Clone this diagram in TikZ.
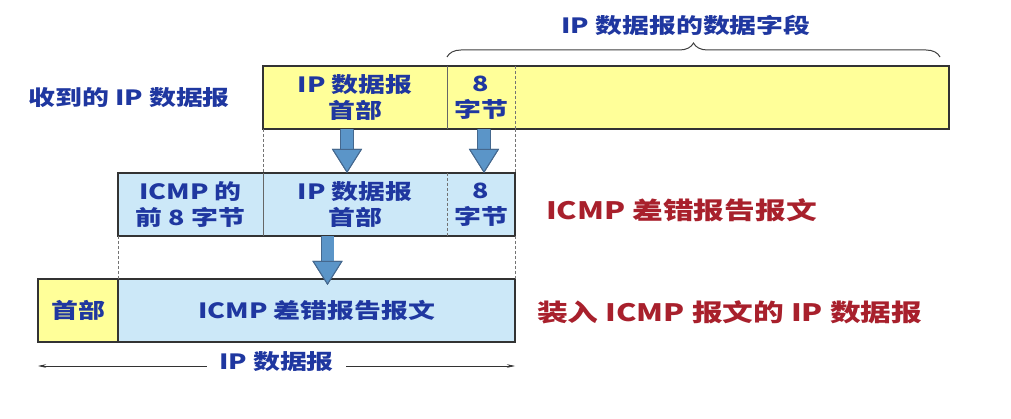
\documentclass[tikz,border=0pt]{standalone}
\usepackage{fontspec}
\setmainfont{Noto Sans CJK SC}[FakeStretch=1.28]
\usetikzlibrary{arrows.meta,positioning,decorations.pathreplacing}
\definecolor{hdryellow}{HTML}{FFFF99}
\definecolor{icmpblue}{HTML}{CCE8F8}
\definecolor{txtblue}{HTML}{1F37A0}
\definecolor{txtred}{HTML}{A8202C}
\definecolor{arrowfill}{HTML}{5B95C8}
\definecolor{arrowedge}{HTML}{45688E}
\tikzset{
  lbl/.style={text=txtblue,font=\bfseries\fontsize{21}{26}\selectfont,align=center,inner sep=0pt},
  redlbl/.style={text=txtred,font=\bfseries\fontsize{24}{28}\selectfont,inner sep=0pt},
  cell/.style={lbl,fill=#1,minimum height=63pt,outer sep=0pt},
  boxline/.style={draw=black!80,line width=1.3pt},
  divline/.style={draw=black!60,line width=0.7pt},
  dashline/.style={draw=black!55,line width=0.6pt,dash pattern=on 3pt off 2pt},
  fatarrow/.style={draw=arrowfill,line width=12pt,
    -{Triangle[length=24pt,width=30pt,line width=1pt,fill=arrowfill,color=arrowedge]},
    preaction={draw=arrowedge,line width=13.6pt,-{Triangle[length=24pt,width=30pt,line width=1pt]}}},
  dimline/.style={draw=black!80,line width=0.6pt,{Stealth[length=8pt,width=3.5pt]}-{Stealth[length=8pt,width=3.5pt]}}
}
\begin{document}
\begin{tikzpicture}[x=1pt,y=-1pt]
\fill[white] (0,0) rectangle (1011,419);
\useasboundingbox (0,0) rectangle (1011,419);

\node[cell=hdryellow,minimum width=184pt,anchor=north west] (hdrA) at (263,66) {IP 数据报\\首部};
\node[cell=hdryellow,minimum width=68pt,right=0pt of hdrA] (byteA) {8\\字节};
\node[cell=hdryellow,minimum width=434pt,right=0pt of byteA] (dataA) {};
\node[lbl,left=33pt of hdrA] (rcv) {收到的 IP 数据报};

\node[cell=icmpblue,minimum width=145pt,anchor=north west] (icmpB) at (118,173) {ICMP 的\\前 8 字节};
\node[cell=icmpblue,minimum width=184pt,right=0pt of icmpB] (hdrB) {IP 数据报\\首部};
\node[cell=icmpblue,minimum width=68pt,right=0pt of hdrB] (byteB) {8\\字节};
\node[redlbl,right=31pt of byteB,yshift=-6pt] (errmsg) {ICMP 差错报告报文};

\node[cell=hdryellow,minimum width=80pt,anchor=north west] (hdrC) at (38,279) {首部};
\node[cell=icmpblue,minimum width=397pt,right=0pt of hdrC] (msgC) {ICMP 差错报告报文};
\node[redlbl,right=22pt of msgC,yshift=-2pt] (ipmsg) {装入 ICMP 报文的 IP 数据报};

\draw[boxline] (hdrA.north west) rectangle (dataA.south east);
\draw[divline] (hdrA.north east) -- (hdrA.south east);
\draw[dashline] (byteA.north east) -- (byteA.south east);
\draw[boxline] (icmpB.north west) rectangle (byteB.south east);
\draw[divline] (icmpB.north east) -- (icmpB.south east);
\draw[dashline] (hdrB.north east) -- (hdrB.south east);
\draw[boxline] (hdrC.north west) rectangle (msgC.south east);
\draw[boxline] (hdrC.north east) -- (hdrC.south east);

\draw[dashline] (hdrA.south west) -- (hdrB.north west);
\draw[dashline] (byteA.south east) -- (byteB.north east);
\draw[dashline] (icmpB.south west) -- (hdrC.north east);
\draw[dashline] (byteB.south east) -- (msgC.north east);

\draw[draw=black!75,line width=1pt,decorate,decoration={brace,amplitude=14pt}]
  ([yshift=9pt]byteA.north west) -- ([xshift=-9pt,yshift=9pt]dataA.north east);
\node[lbl] (field) at (686,25) {IP 数据报的数据字段};

\coordinate (dimL) at ([yshift=-24pt]hdrC.south west);
\coordinate (dimR) at ([yshift=-24pt]msgC.south east);
\draw[dimline] (dimL) -- (dimR) node[midway,lbl,fill=white,inner xsep=12pt,inner ysep=2pt,yshift=4pt] (ipdg) {IP 数据报};

\draw[fatarrow] ([xshift=-8pt]hdrA.south) -- ([xshift=-8pt]hdrB.north);
\draw[fatarrow] ([xshift=3pt]byteA.south) -- ([xshift=3pt]byteB.north);
\draw[fatarrow] ([xshift=11pt]msgC.north |- icmpB.south) -- ([xshift=11pt,yshift=-6pt]msgC.north);
\end{tikzpicture}
\end{document}
